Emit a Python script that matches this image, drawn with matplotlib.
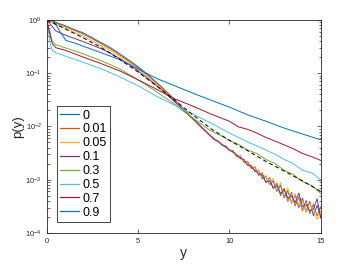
import numpy as np
import matplotlib
matplotlib.use("Agg")
import matplotlib.pyplot as plt

plt.rcParams['font.family'] = ['Liberation Sans', 'DejaVu Sans']

# ---------------- data ----------------
labels = ['0', '0.01', '0.05', '0.1', '0.3', '0.5', '0.7', '0.9']
colors = ['#0072BD', '#D95319', '#EDB120', '#7E2F8E', '#77AC30', '#4DBEEE', '#A2142F', '#0072BD']

# first four (noisy) curves share one grid
x_noisy = [0, 0.5, 1, 1.5, 2, 2.5, 3, 3.5, 4, 4.5, 5, 5.5, 6, 6.5, 7, 7.5, 8, 8.5, 9,
           9.2, 9.4, 9.6, 9.8, 10.0, 10.2, 10.4, 10.6, 10.8, 11.0, 11.2, 11.4, 11.6, 11.8,
           12.0, 12.2, 12.4, 12.6, 12.8, 13.0, 13.2, 13.4, 13.6, 13.8, 14.0, 14.2, 14.4,
           14.6, 14.8, 15.0]

p_0 = [1.05, 0.9, 0.78, 0.66, 0.57, 0.46, 0.37, 0.3, 0.23, 0.175, 0.132, 0.096, 0.068,
       0.047, 0.032, 0.021, 0.0143, 0.0096, 0.0066,
       5.8e-3, 5.1e-3, 4.6e-3, 4.2e-3, 3.6e-3, 3.4e-3, 2.8e-3, 2.6e-3, 2.2e-3, 1.9e-3,
       1.85e-3, 1.4e-3, 1.5e-3, 1.05e-3, 1.15e-3, 8.0e-4, 9.5e-4, 6.0e-4, 7.8e-4, 4.6e-4,
       6.2e-4, 3.6e-4, 5.2e-4, 3.0e-4, 4.5e-4, 2.5e-4, 3.9e-4, 2.1e-4, 3.3e-4, 2.0e-4]
p_001 = [1.0, 0.87, 0.75, 0.64, 0.54, 0.44, 0.355, 0.285, 0.22, 0.168, 0.126, 0.092, 0.066,
         0.046, 0.031, 0.021, 0.0142, 0.0095, 0.0065,
         5.6e-3, 5.3e-3, 4.4e-3, 4.3e-3, 3.5e-3, 3.5e-3, 2.7e-3, 2.8e-3, 2.1e-3, 2.2e-3,
         1.6e-3, 1.75e-3, 1.2e-3, 1.35e-3, 8.8e-4, 1.1e-3, 6.8e-4, 8.6e-4, 5.0e-4, 6.9e-4,
         3.9e-4, 5.8e-4, 3.2e-4, 4.7e-4, 2.6e-4, 4.1e-4, 2.3e-4, 3.5e-4, 2.1e-4, 3.1e-4]
p_005 = [1.0, 0.83, 0.7, 0.59, 0.49, 0.4, 0.325, 0.265, 0.207, 0.16, 0.12, 0.088, 0.063,
         0.044, 0.03, 0.0205, 0.014, 0.0094, 0.0064,
         5.7e-3, 5.0e-3, 4.6e-3, 4.0e-3, 3.7e-3, 3.2e-3, 3.0e-3, 2.5e-3, 2.3e-3, 1.8e-3,
         1.9e-3, 1.45e-3, 1.5e-3, 1.1e-3, 1.2e-3, 8.0e-4, 1.05e-3, 6.3e-4, 8.8e-4, 5.0e-4,
         7.0e-4, 3.7e-4, 5.4e-4, 3.3e-4, 4.1e-4, 2.4e-4, 3.6e-4, 2.5e-4, 1.8e-4, 2.6e-4]
p_01 = [1.0, 0.62, 0.52, 0.45, 0.39, 0.335, 0.285, 0.235, 0.188, 0.146, 0.11, 0.081, 0.059,
        0.042, 0.029, 0.02, 0.0137, 0.0093, 0.0064,
        5.6e-3, 5.2e-3, 4.5e-3, 4.1e-3, 3.6e-3, 3.3e-3, 2.9e-3, 2.5e-3, 2.4e-3, 1.9e-3,
        1.75e-3, 1.5e-3, 1.3e-3, 1.2e-3, 9.0e-4, 9.5e-4, 7.0e-4, 7.8e-4, 5.5e-4, 6.5e-4,
        4.5e-4, 5.0e-4, 3.7e-4, 5.6e-4, 3.1e-4, 3.4e-4, 2.6e-4, 2.8e-4, 4.4e-4, 1.9e-4]

x_03 = [0, 0.15, 0.3, 0.5, 1, 2, 3, 4, 5, 6, 7, 7.5, 8, 8.5, 9, 9.5, 10, 10.5, 11, 11.5,
        12, 12.5, 13, 13.5, 14, 14.5, 15]
p_03 = [1.0, 0.6, 0.4, 0.34, 0.3, 0.23, 0.17, 0.12, 0.075, 0.045, 0.026, 0.019, 0.0145,
        0.0108, 0.0082, 0.0068, 0.0054, 0.0046, 0.0036, 0.0031, 0.0024, 0.002, 0.0015,
        0.00125, 0.00092, 0.00078, 0.00055]

x_05 = [0, 0.1, 0.2, 0.3, 0.5, 1, 2, 3, 4, 5, 6, 7, 8, 9, 10, 10.5, 11, 11.5, 12, 12.5,
        13, 13.5, 14, 14.5, 15]
p_05 = [1.0, 0.6, 0.35, 0.27, 0.24, 0.21, 0.16, 0.12, 0.085, 0.058, 0.037, 0.025, 0.017,
        0.0115, 0.0075, 0.0062, 0.0051, 0.0043, 0.0036, 0.003, 0.0024, 0.002, 0.0015,
        0.00135, 0.001]

x_07 = [0, 0.15, 0.3, 0.5, 1, 2, 3, 4, 5, 6, 7, 8, 9, 10, 10.5, 11, 11.5, 12, 12.5, 13,
        13.5, 14, 14.5, 15]
p_07 = [1.0, 0.6, 0.36, 0.3, 0.27, 0.2, 0.15, 0.11, 0.075, 0.05, 0.033, 0.024, 0.017,
        0.0125, 0.0098, 0.0088, 0.0075, 0.0062, 0.0053, 0.0045, 0.0038, 0.0031, 0.0027,
        0.0023]

x_09 = [0, 0.35, 0.7, 1.05, 1.5, 2, 3, 4, 5, 6, 7, 8, 9, 10, 11, 12, 13, 14, 15]
p_09 = [1.3, 1.0, 0.62, 0.41, 0.37, 0.32, 0.24, 0.18, 0.12, 0.08, 0.058, 0.042, 0.031,
        0.023, 0.0165, 0.0125, 0.0093, 0.0072, 0.0056]

x_ref = [0, 0.5, 1, 1.5, 2, 2.5, 3, 3.5, 4, 5, 6, 7, 8, 9, 10, 11, 12, 13, 14, 15]
p_ref = [1.0, 0.82, 0.68, 0.56, 0.46, 0.37, 0.3, 0.235, 0.18, 0.105, 0.058, 0.031, 0.0165,
         0.009, 0.0055, 0.0035, 0.0022, 0.00145, 0.00095, 0.0006]

series_x = [x_noisy, x_noisy, x_noisy, x_noisy, x_03, x_05, x_07, x_09]
series_p = [p_0, p_001, p_005, p_01, p_03, p_05, p_07, p_09]

# ---------------- figure ----------------
fig = plt.figure(figsize=(3.54, 2.65), dpi=100)
ax = fig.add_axes([0.132, 0.121, 0.774, 0.804])

for xs, ps, c, lab in zip(series_x, series_p, colors, labels):
    ax.plot(xs, ps, color=c, lw=0.7, label=lab)
ax.plot(x_ref, p_ref, color='black', lw=0.7, ls=(0, (4, 3)))

ax.set_yscale('log')
ax.set_xlim(0, 15)
ax.set_ylim(1e-4, 1)
ax.set_xticks([0, 5, 10, 15])
ax.set_yticks([1e-4, 1e-3, 1e-2, 1e-1, 1])

dark = '#262626'
for s in ax.spines.values():
    s.set_color(dark)
    s.set_linewidth(0.6)
ax.tick_params(which='both', direction='in', top=True, right=True, colors=dark,
               labelsize=5.5, width=0.5)
ax.tick_params(which='major', length=3)
ax.tick_params(which='minor', length=1.8)

ax.set_xlabel('y', fontsize=10, color=dark, labelpad=1)
ax.set_ylabel('p(y)', fontsize=9.5, color=dark, labelpad=1)

leg = ax.legend(loc='lower left', bbox_to_anchor=(0.038, 0.052), borderaxespad=0,
                fontsize=9, fancybox=False, handlelength=1.5, handletextpad=0.3,
                labelspacing=0.15, borderpad=0.25, framealpha=1)
leg.get_frame().set_edgecolor(dark)
leg.get_frame().set_linewidth(0.6)
for h, c in zip(leg.legend_handles, colors):
    h.set_color(c)
    h.set_linewidth(0.9)

fig.savefig('out.png', dpi=100)
